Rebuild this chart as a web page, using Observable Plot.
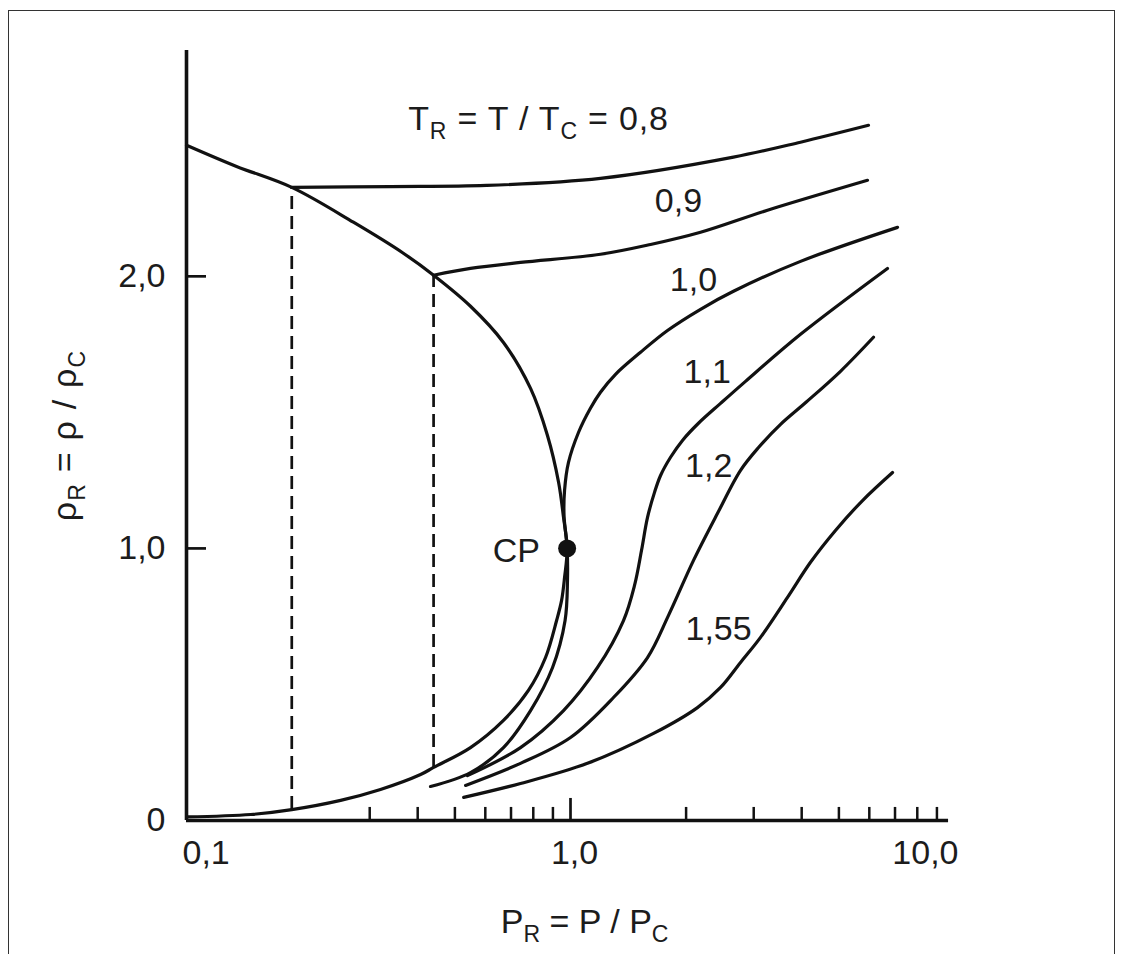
<!DOCTYPE html>
<html>
<head>
<meta charset="utf-8">
<script src="https://cdn.jsdelivr.net/npm/d3@7"></script>
<script src="https://cdn.jsdelivr.net/npm/@observablehq/plot@0.6"></script>
<style>
html, body { margin: 0; padding: 0; background: #fff; overflow: hidden; }
#wrap { position: relative; width: 1123px; height: 954px; overflow: hidden; }
#border { position: absolute; left: 8px; top: 10px; width: 1107px; height: 1000px; border: 1px solid #333; box-sizing: border-box; pointer-events: none; }
#chart { position: absolute; left: 0; top: 0; }
</style>
</head>
<body>
<div id="wrap"><div id="chart"></div><div id="border"></div></div>
<script>
// ---- data (P_R, rho_R) ----
const liquidP   = [0.100, 0.135, 0.188, 0.272, 0.367, 0.440, 0.549, 0.669, 0.787, 0.871, 0.931, 0.959, 0.98];
const liquidRho = [2.482, 2.404, 2.327, 2.199, 2.085, 2.004, 1.890, 1.757, 1.588, 1.415, 1.243, 1.114, 1.0];
const vaporP    = [0.98, 0.965, 0.948, 0.920, 0.861, 0.777, 0.669, 0.549, 0.440, 0.407, 0.320, 0.252, 0.188, 0.147, 0.100];
const vaporRho  = [1.0, 0.893, 0.809, 0.735, 0.599, 0.478, 0.368, 0.268, 0.195, 0.169, 0.114, 0.074, 0.040, 0.022, 0.013];

const iso08P   = [0.188, 0.34, 0.604, 1.197, 2.657, 3.972, 5.97];
const iso08Rho = [2.327, 2.330, 2.334, 2.360, 2.438, 2.493, 2.555];
const iso09P   = [0.440, 0.549, 0.741, 1.197, 1.616, 2.181, 3.258, 5.934];
const iso09Rho = [2.004, 2.029, 2.051, 2.081, 2.117, 2.162, 2.243, 2.353];
const iso10P   = [0.432, 0.549, 0.669, 0.787, 0.898, 0.968, 0.982, 0.98, 0.962, 0.965, 0.988, 1.049, 1.127, 1.197, 1.310, 1.522, 1.789, 2.181, 2.657, 3.972, 7.106];
const iso10Rho = [0.125, 0.176, 0.268, 0.404, 0.5625, 0.735, 0.882, 1.0, 1.121, 1.213, 1.316, 1.426, 1.515, 1.574, 1.640, 1.721, 1.801, 1.879, 1.945, 2.055, 2.180];
const iso11P   = [0.539, 0.741, 0.959, 1.176, 1.374, 1.468, 1.531, 1.587, 1.655, 1.716, 1.822, 1.957, 2.154, 2.459, 2.856, 3.972, 6.69];
const iso11Rho = [0.165, 0.268, 0.404, 0.5625, 0.735, 0.864, 0.993, 1.114, 1.206, 1.268, 1.335, 1.397, 1.460, 1.533, 1.614, 1.787, 2.029];
const iso12P   = [0.533, 0.741, 1.0, 1.294, 1.587, 1.800, 2.091, 2.415, 2.772, 3.088, 3.524, 4.105, 5.048, 6.152];
const iso12Rho = [0.129, 0.210, 0.305, 0.452, 0.599, 0.754, 0.956, 1.129, 1.287, 1.371, 1.456, 1.537, 1.651, 1.776];
const iso155P   = [0.527, 0.741, 1.107, 1.645, 2.141, 2.459, 2.772, 3.125, 3.674, 4.217, 4.898, 5.761, 6.897];
const iso155Rho = [0.085, 0.136, 0.210, 0.320, 0.415, 0.489, 0.581, 0.673, 0.820, 0.949, 1.066, 1.176, 1.279];

// dashed tie lines (two-phase region)
const tieP       = [0.188, 0.440];
const tieRhoLow  = [0.040, 0.195];
const tieRhoHigh = [2.327, 2.004];

// critical point
const cpP = [0.98], cpRho = [1.0];

// isotherm labels
const isoLabels   = ["0,9", "1,0", "1,1", "1,2", "1,55"];
const isoLabelP   = [1.91, 2.09, 2.27, 2.29, 2.43];
const isoLabelRho = [2.276, 1.985, 1.647, 1.301, 0.702];
const titleLabel = "T_R = T / T_C = 0,8";
const titleP = 0.378, titleRho = 2.577;
const cpLabel = "CP", cpLabelP = 0.723, cpLabelRho = 0.99;

// axes
const xTickLabelValues = [0.1, 1, 10];
const xTickLabels = ["0,1", "1,0", "10,0"];
const xMinorTicks = [0.3, 0.4, 0.5, 0.6, 0.7, 0.8, 0.9, 2, 3, 4, 5, 6, 7, 8, 9];
const xMajorTicks = [1];
const yTickValues = [1, 2];
const yTickLabelValues = [0, 1, 2];
const yTickLabels = ["0", "1,0", "2,0"];
const xLabel = "P_R = P / P_C";
const yLabel = "\u03C1_R = \u03C1 / \u03C1_C";
const xMin = 0.1, xAxisEnd = 9.65, yMax = 2.83;

const zip = (xs, ys) => xs.map((x, i) => ({x, y: ys[i]}));
const saturation = zip(liquidP, liquidRho).concat(zip(vaporP, vaporRho).slice(1));
const isotherms = [
  zip(iso08P, iso08Rho), zip(iso09P, iso09Rho), zip(iso10P, iso10Rho),
  zip(iso11P, iso11Rho), zip(iso12P, iso12Rho), zip(iso155P, iso155Rho)
];
const ink = "#111";
const textInk = "#1c1c1c";
const lineOpts = {x: "x", y: "y", stroke: ink, strokeWidth: 3.2, curve: "catmull-rom", strokeLinecap: "round", strokeLinejoin: "round"};

const chart = Plot.plot({
  width: 1123,
  height: 954,
  marginLeft: 186,
  marginRight: 169,
  marginTop: 50,
  marginBottom: 134,
  x: {type: "log", domain: [0.1, 10], axis: null},
  y: {domain: [0, yMax], axis: null},
  style: {fontFamily: "'Liberation Sans', Arial, Helvetica, sans-serif", fontSize: "34px", color: textInk, background: "transparent"},
  marks: [
    // dashed tie lines
    Plot.ruleX(tieP.map((p, i) => ({p, lo: tieRhoLow[i], hi: tieRhoHigh[i]})), {x: "p", y1: "lo", y2: "hi", stroke: ink, strokeWidth: 2.7, strokeDasharray: "13,7"}),
    // saturation curve
    Plot.line(saturation, lineOpts),
    // isotherms
    ...isotherms.map(d => Plot.line(d, lineOpts)),
    // critical point
    Plot.dot(zip(cpP, cpRho), {x: "x", y: "y", r: 9, fill: ink, stroke: null}),
    // axis lines
    Plot.ruleX([xMin], {y1: 0, y2: yMax, stroke: ink, strokeWidth: 3.6}),
    Plot.ruleY([0], {x1: xMin, x2: xAxisEnd, stroke: ink, strokeWidth: 3.3}),
    // x ticks (inward)
    Plot.ruleX(xMinorTicks, {y1: 0, y2: 0.048, stroke: ink, strokeWidth: 2.5}),
    Plot.ruleX(xMajorTicks, {y1: 0, y2: 0.081, stroke: ink, strokeWidth: 2.7}),
    // y ticks (inward)
    Plot.ruleY(yTickValues, {x1: xMin, x2: xMin * Math.pow(10, 20 / 384), stroke: ink, strokeWidth: 2.7}),
    // y tick labels
    Plot.text(yTickLabelValues, {y: d => d, frameAnchor: "left", text: (d, i) => yTickLabels[i], textAnchor: "end", lineAnchor: "middle", dx: -21, fill: textInk}),
    // x tick labels
    Plot.text([xTickLabelValues[0]], {x: d => d, frameAnchor: "bottom", text: () => xTickLabels[0], textAnchor: "start", lineAnchor: "middle", dx: -4, dy: 33, fill: textInk}),
    Plot.text([xTickLabelValues[1]], {x: d => d, frameAnchor: "bottom", text: () => xTickLabels[1], textAnchor: "middle", lineAnchor: "middle", dx: 4, dy: 33, fill: textInk}),
    Plot.text([xTickLabelValues[2]], {x: d => d, frameAnchor: "bottom", text: () => xTickLabels[2], textAnchor: "end", lineAnchor: "middle", dx: 4, dy: 33, fill: textInk}),
    // isotherm labels
    Plot.text(isoLabels, {x: (d, i) => isoLabelP[i], y: (d, i) => isoLabelRho[i], text: d => d, textAnchor: "middle", lineAnchor: "middle", fill: textInk}),
    Plot.text([titleLabel], {x: () => titleP, y: () => titleRho, text: d => d, textAnchor: "start", lineAnchor: "middle", fill: textInk, className: "title-label"}),
    Plot.text([cpLabel], {x: () => cpLabelP, y: () => cpLabelRho, text: d => d, textAnchor: "middle", lineAnchor: "middle", fill: textInk}),
    // axis titles
    Plot.text([xLabel], {x: () => 1.088, frameAnchor: "bottom", text: d => d, textAnchor: "middle", lineAnchor: "middle", dy: 102, fontSize: 34, fill: textInk}),
    Plot.text([yLabel], {y: () => 1.415, frameAnchor: "left", text: d => d, textAnchor: "middle", lineAnchor: "middle", dx: -121, rotate: -90, fontSize: 34, fill: textInk, className: "y-label"})
  ]
});

// subscripts: turn "A_B" into A with subscript B
chart.querySelectorAll("text").forEach(t => {
  const s = t.textContent;
  if (!s.includes("_")) return;
  const parts = s.split(/_(\S)/);
  while (t.firstChild) t.removeChild(t.firstChild);
  const ns = "http://www.w3.org/2000/svg";
  let lowered = false;
  parts.forEach((p, i) => {
    if (p === "") return;
    const ts = document.createElementNS(ns, "tspan");
    ts.textContent = p;
    if (i % 2 === 1) {
      ts.setAttribute("font-size", "23");
      ts.setAttribute("dy", "9");
      lowered = true;
    } else if (lowered) {
      ts.setAttribute("dy", "-9");
      lowered = false;
    }
    t.appendChild(ts);
  });
});
chart.querySelectorAll(".title-label text").forEach(t => t.setAttribute("letter-spacing", "0.8"));
chart.querySelectorAll(".y-label text").forEach(t => t.setAttribute("letter-spacing", "1.2"));

document.getElementById("chart").appendChild(chart);
</script>
</body>
</html>
